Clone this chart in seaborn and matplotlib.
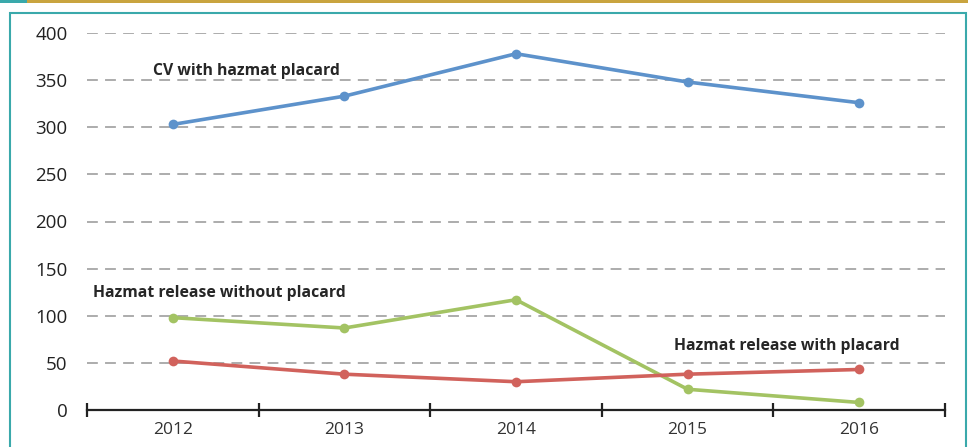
import matplotlib
matplotlib.use("Agg")
import matplotlib.pyplot as plt
import seaborn as sns
import pandas as pd
from matplotlib.patches import Rectangle

years = ["2012", "2013", "2014", "2015", "2016"]
cv_with_placard = [303, 333, 378, 348, 326]
release_without_placard = [98, 87, 117, 22, 8]
release_with_placard = [52, 38, 30, 38, 43]

series_names = ["CV with hazmat placard", "Hazmat release without placard", "Hazmat release with placard"]
colors = ["#5d92cb", "#a3c363", "#d1625c"]

df = pd.DataFrame({
    "year": years * 3,
    "x": list(range(len(years))) * 3,
    "value": cv_with_placard + release_without_placard + release_with_placard,
    "series": [series_names[0]] * 5 + [series_names[1]] * 5 + [series_names[2]] * 5,
})

sns.set_theme(style="white")
plt.rcParams["font.family"] = ["Open Sans", "DejaVu Sans"]

W, H = 971, 447
fig = plt.figure(figsize=(W / 100, H / 100), dpi=100)
ax = fig.add_axes([87 / W, 1 - 410 / H, (945 - 87) / W, (410 - 33) / H])

sns.lineplot(data=df, x="x", y="value", hue="series", palette=colors,
             marker="o", markersize=7, markeredgewidth=0, linewidth=2.6,
             legend=False, ax=ax, zorder=3)

ax.set_xlim(-0.5, 4.5)
ax.set_ylim(0, 400)
ax.set_yticks(range(0, 401, 50))
ax.set_xticks(range(5))
ax.set_xticklabels(years)
ax.set_xlabel("")
ax.set_ylabel("")

for y in range(50, 401, 50):
    ax.axhline(y, color="#a6a6a6", linewidth=1.3, linestyle=(0, (6, 4)), zorder=1)

for s in ["top", "right", "left"]:
    ax.spines[s].set_visible(False)
ax.spines["bottom"].set_color("#222222")
ax.spines["bottom"].set_linewidth(1.6)
ax.spines["bottom"].set_zorder(4)

ax.set_xticks([i - 0.5 for i in range(6)], minor=True)
ax.tick_params(axis="x", which="major", bottom=True, length=0, pad=9, labelsize=12.5, labelcolor="#333333")
ax.tick_params(axis="x", which="minor", bottom=True, length=10, width=1.6, direction="inout", color="#222222")
ax.tick_params(axis="y", length=0, pad=14, labelsize=13.5, labelcolor="#222222")

txt_kw = dict(fontsize=11.3, fontweight="bold", color="#262626", ha="center", va="center")
ax.text(0.43, 360, series_names[0], **txt_kw)
ax.text(0.27, 124, series_names[1], **txt_kw)
ax.text(3.58, 68, series_names[2], **txt_kw)

# decorative frame
teal = "#3aa9ab"
fig.patches.append(Rectangle((10 / W, -0.05), (966 - 10) / W, 1.05 - 13 / H,
                             transform=fig.transFigure, fill=False,
                             edgecolor=teal, linewidth=1.5, zorder=0))
fig.patches.append(Rectangle((27 / W, 1 - 3 / H), (968 - 27) / W, 3 / H,
                             transform=fig.transFigure, facecolor="#c9a43f",
                             edgecolor="none", zorder=0))
fig.patches.append(Rectangle((0, 1 - 3 / H), 27 / W, 3 / H,
                             transform=fig.transFigure, facecolor=teal,
                             edgecolor="none", zorder=0))

fig.savefig("out.png", dpi=100)
